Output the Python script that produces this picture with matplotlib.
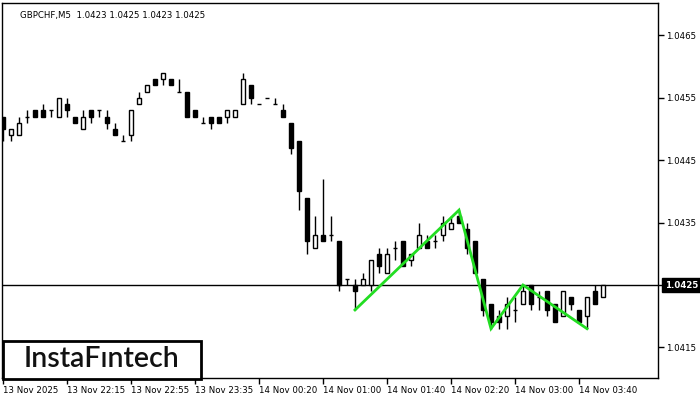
import matplotlib
matplotlib.use("Agg")
import matplotlib.pyplot as plt
from matplotlib.patches import Rectangle
import numpy as np

# ---- data (GBPCHF M5) ----
opens = [1.0452, 1.0449, 1.0449, 1.0452, 1.0453, 1.0453, 1.0453, 1.0452, 1.0454, 1.0452,
         1.0450, 1.0453, 1.0453, 1.0452, 1.0450, 1.0448, 1.0449, 1.0454, 1.0456, 1.0458,
         1.0458, 1.0458, 1.0456, 1.0456, 1.0453, 1.0451, 1.0452, 1.0452, 1.0452, 1.0452,
         1.0454, 1.0457, 1.0454, 1.0455, 1.0454, 1.0453, 1.0451, 1.0448, 1.0439, 1.0431,
         1.0433, 1.0433, 1.0432, 1.0426, 1.0425, 1.0425, 1.0425, 1.0430, 1.0427, 1.0431,
         1.0432, 1.0429, 1.0431, 1.0432, 1.0432, 1.0433, 1.0434, 1.0436, 1.0434, 1.0432,
         1.0426, 1.0422, 1.0420, 1.0420, 1.0421, 1.0422, 1.0425, 1.0423, 1.0424, 1.0422,
         1.0420, 1.0423, 1.0421, 1.0420, 1.0424, 1.0423]
highs = [1.0452, 1.0450, 1.0452, 1.0453, 1.0453, 1.0454, 1.0453, 1.0455, 1.0455, 1.0452,
         1.0453, 1.0453, 1.0453, 1.0453, 1.0451, 1.0449, 1.0453, 1.0456, 1.0457, 1.0458,
         1.0459, 1.0458, 1.0458, 1.0456, 1.0453, 1.0452, 1.0452, 1.0452, 1.0453, 1.0453,
         1.0459, 1.0457, 1.0454, 1.0455, 1.0455, 1.0454, 1.0451, 1.0448, 1.0439, 1.0436,
         1.0442, 1.0436, 1.0432, 1.0426, 1.0426, 1.0427, 1.0429, 1.0431, 1.0431, 1.0432,
         1.0432, 1.0430, 1.0435, 1.0433, 1.0433, 1.0436, 1.0436, 1.0437, 1.0435, 1.0432,
         1.0426, 1.0422, 1.0421, 1.0423, 1.0423, 1.0425, 1.0425, 1.0424, 1.0424, 1.0422,
         1.0424, 1.0423, 1.0421, 1.0423, 1.0425, 1.0425]
lows = [1.0448, 1.0448, 1.0449, 1.0451, 1.0452, 1.0452, 1.0452, 1.0452, 1.0452, 1.0451,
        1.0450, 1.0451, 1.0452, 1.0450, 1.0449, 1.0448, 1.0448, 1.0454, 1.0456, 1.0457,
        1.0457, 1.0457, 1.0456, 1.0452, 1.0452, 1.0451, 1.0450, 1.0451, 1.0451, 1.0452,
        1.0454, 1.0454, 1.0454, 1.0455, 1.0454, 1.0452, 1.0446, 1.0437, 1.0430, 1.0431,
        1.0432, 1.0432, 1.0424, 1.0425, 1.0421, 1.0425, 1.0424, 1.0427, 1.0427, 1.0429,
        1.0428, 1.0428, 1.0431, 1.0431, 1.0431, 1.0432, 1.0434, 1.0435, 1.0430, 1.0427,
        1.0420, 1.0418, 1.0418, 1.0418, 1.0419, 1.0422, 1.0421, 1.0421, 1.0420, 1.0419,
        1.0420, 1.0421, 1.0419, 1.0418, 1.0422, 1.0423]
closes = [1.0450, 1.0450, 1.0451, 1.0452, 1.0452, 1.0452, 1.0453, 1.0455, 1.0453, 1.0451,
          1.0452, 1.0452, 1.0453, 1.0451, 1.0449, 1.0448, 1.0453, 1.0455, 1.0457, 1.0457,
          1.0459, 1.0457, 1.0456, 1.0452, 1.0452, 1.0451, 1.0451, 1.0451, 1.0453, 1.0453,
          1.0458, 1.0455, 1.0454, 1.0455, 1.0454, 1.0452, 1.0447, 1.0440, 1.0432, 1.0433,
          1.0432, 1.0433, 1.0425, 1.0426, 1.0424, 1.0426, 1.0429, 1.0428, 1.0430, 1.0431,
          1.0428, 1.0430, 1.0433, 1.0431, 1.0432, 1.0435, 1.0435, 1.0435, 1.0431, 1.0427,
          1.0421, 1.0419, 1.0419, 1.0422, 1.0421, 1.0424, 1.0422, 1.0423, 1.0421, 1.0419,
          1.0424, 1.0422, 1.0419, 1.0423, 1.0422, 1.0425]

pattern_idx = [44, 57, 61, 65, 73]
pattern_price = [1.0421, 1.0437, 1.0418, 1.0425, 1.0418]

xtick_pos = [0, 8, 16, 24, 32, 40, 48, 56, 64, 72]
xtick_labels = ["13 Nov 2025", "13 Nov 22:15", "13 Nov 22:55", "13 Nov 23:35",
                "14 Nov 00:20", "14 Nov 01:00", "14 Nov 01:40", "14 Nov 02:20",
                "14 Nov 03:00", "14 Nov 03:40"]
ytick_vals = [1.0415, 1.0425, 1.0435, 1.0445, 1.0455, 1.0465]
current_price = 1.0425
title_text = "GBPCHF,M5  1.0423 1.0425 1.0423 1.0425"
logo_text = "InstaF\u0131ntech"

# ---- figure ----
plt.rcParams['font.family'] = ['DejaVu Sans']
fig = plt.figure(figsize=(7, 4), dpi=100)
fig.patch.set_facecolor('white')
W, H = 700, 400
ax = fig.add_axes([2 / W, (H - 378) / H, 656 / W, 375 / H])
ax.set_facecolor('white')

n = len(opens)
x = np.arange(n)
o = np.array(opens); c = np.array(closes); hi = np.array(highs); lo = np.array(lows)

ax.vlines(x, lo, hi, color='black', linewidth=1, zorder=2)
bw = 0.55
for i in range(n):
    bottom = min(o[i], c[i])
    height = abs(c[i] - o[i])
    if height < 1e-9:
        ax.hlines(o[i], i - bw / 2, i + bw / 2, color='black', linewidth=1, zorder=3)
    else:
        fc = 'white' if c[i] > o[i] else 'black'
        ax.add_patch(Rectangle((i - bw / 2, bottom), bw, height, facecolor=fc,
                               edgecolor='black', linewidth=1, zorder=3))

ax.axhline(current_price, color='black', linewidth=1, zorder=1)
ax.plot(pattern_idx, pattern_price, color='#22DD22', linewidth=2, zorder=4,
        solid_joinstyle='miter')

ax.set_xlim(-0.125, 81.875)
ax.set_ylim(1.0425 - 93 / 62400, 1.0425 + 282 / 62400)

ax.yaxis.tick_right()
ax.set_yticks(ytick_vals)
ax.set_yticklabels(["" if abs(v - current_price) < 1e-9 else f"{v:.4f}" for v in ytick_vals])
ax.tick_params(axis='y', direction='out', length=4, width=1, pad=2, labelsize=6.2)
ax.set_xticks(xtick_pos)
ax.set_xticklabels(xtick_labels, ha='left')
ax.tick_params(axis='x', direction='out', length=4, width=1, pad=2, labelsize=6.2)
for lbl in ax.get_xticklabels():
    lbl.set_horizontalalignment('left')

for s in ax.spines.values():
    s.set_linewidth(1)
    s.set_color('black')

# current price box
ax.annotate(f"{current_price:.4f}", xy=(1.0, current_price),
            xycoords=('axes fraction', 'data'), xytext=(5, 0),
            textcoords='offset points', va='center', ha='left', fontsize=6.2,
            color='white', fontweight='bold',
            bbox=dict(boxstyle='square,pad=0.3', facecolor='black', edgecolor='black'),
            annotation_clip=False, zorder=10)

ax.text(18 / 656, 1 - 8 / 375, title_text, transform=ax.transAxes, fontsize=6.2,
        va='top', ha='left', color='black')

# logo
fig.add_artist(Rectangle((3 / W, (H - 379) / H), 198 / W, 38 / H, transform=fig.transFigure,
                         facecolor='white', edgecolor='black', linewidth=2, zorder=20))
fig.text(102 / W, (H - 359) / H, logo_text, fontsize=20.5, ha='center', va='center',
         color='#111111', zorder=21, family=['Lato', 'DejaVu Sans'], fontweight='semibold')

fig.savefig('out.png', dpi=100)
